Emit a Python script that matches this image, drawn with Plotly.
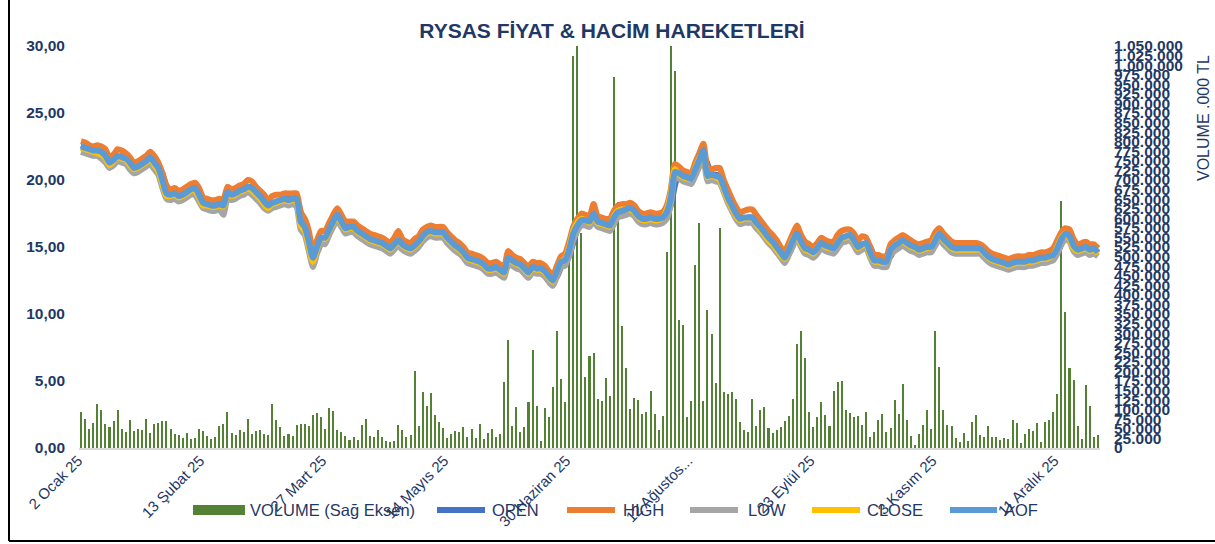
import plotly.graph_objects as go

# ---------------- DATA ----------------
tick_positions = [0, 30, 60, 90, 120, 150, 180, 210, 240]
tick_labels = ["2 Ocak 25", "13 Şubat 25", "27 Mart 25", "14 Mayıs 25", "30 Haziran 25",
               "12 Ağustos...", "23 Eylül 25", "3 Kasım 25", "11 Aralık 25"]

aof = [22.5, 22.4, 22.3, 22.2, 22.2, 22.1, 21.8, 21.3, 21.5, 21.8,
       21.7, 21.6, 21.3, 20.9, 21.0, 21.2, 21.4, 21.7, 21.3, 20.9,
       20.0, 19.0, 18.9, 19.0, 18.8, 18.9, 19.1, 19.3, 19.4, 18.9,
       18.3, 18.2, 18.1, 18.1, 18.2, 18.1, 19.1, 18.9, 19.0, 19.2,
       19.3, 19.5, 19.4, 19.1, 18.8, 18.4, 18.1, 18.3, 18.4, 18.5,
       18.6, 18.5, 18.6, 18.6, 16.9, 16.5, 15.4, 14.2, 15.0, 15.7,
       15.7, 16.3, 16.9, 17.4, 16.9, 16.4, 16.5, 16.5, 16.2, 16.0,
       15.8, 15.6, 15.5, 15.4, 15.3, 15.1, 14.9, 15.2, 15.5, 15.2,
       15.0, 14.9, 15.1, 15.4, 15.8, 16.1, 16.2, 16.1, 16.1, 16.1,
       15.7, 15.4, 15.1, 14.9, 14.6, 14.2, 14.1, 14.0, 13.9, 13.7,
       13.4, 13.4, 13.5, 13.3, 13.1, 14.2, 14.0, 13.8, 13.7, 13.4,
       13.1, 13.5, 13.4, 13.4, 13.2, 12.8, 12.5, 13.2, 13.9, 14.0,
       14.8, 16.0, 16.6, 17.0, 17.0, 16.9, 17.5, 16.9, 16.8, 16.7,
       16.6, 17.2, 17.6, 17.7, 17.8, 17.9, 17.7, 17.3, 17.1, 17.1,
       17.2, 17.1, 17.1, 17.2, 17.6, 18.7, 20.6, 20.5, 20.3, 20.2,
       20.1, 20.8, 21.5, 22.2, 20.3, 20.4, 20.3, 20.2, 19.5, 18.7,
       18.1, 17.5, 17.1, 17.2, 17.2, 17.2, 16.8, 16.5, 16.1, 15.7,
       15.4, 15.0, 14.6, 14.2, 14.8, 15.5, 16.0, 15.4, 14.9, 14.8,
       14.6, 14.9, 15.3, 15.1, 15.0, 14.9, 15.3, 15.7, 15.8, 15.9,
       15.5, 15.0, 15.2, 15.3, 14.6, 14.0, 14.0, 13.9, 13.9, 14.8,
       15.1, 15.3, 15.5, 15.3, 15.1, 15.0, 14.8, 14.9, 15.0, 15.0,
       15.5, 16.0, 15.6, 15.3, 15.0, 14.9, 14.9, 14.9, 14.9, 14.9,
       14.9, 14.9, 14.6, 14.3, 14.1, 14.0, 13.9, 13.8, 13.7, 13.8,
       13.9, 13.9, 13.9, 14.0, 14.0, 14.1, 14.2, 14.2, 14.3, 14.4,
       14.9, 15.6, 16.0, 15.8, 15.1, 14.8, 14.9, 15.0, 14.8, 14.9,
       14.6]

close = [22.4, 22.3, 22.2, 22.1, 22.0, 21.9, 21.6, 21.1, 21.4, 21.7,
         21.6, 21.5, 21.1, 20.8, 20.9, 21.1, 21.3, 21.6, 21.1, 20.7,
         19.7, 18.8, 18.8, 18.9, 18.7, 18.8, 19.0, 19.2, 19.2, 18.7,
         18.1, 18.1, 18.0, 18.0, 18.1, 18.0, 19.0, 18.8, 18.9, 19.1,
         19.2, 19.4, 19.2, 18.9, 18.6, 18.2, 17.9, 18.2, 18.3, 18.4,
         18.5, 18.4, 18.5, 18.4, 16.6, 16.2, 15.0, 13.9, 14.9, 15.6,
         15.6, 16.2, 16.8, 17.3, 16.8, 16.3, 16.4, 16.4, 16.1, 15.9,
         15.7, 15.5, 15.4, 15.3, 15.2, 15.0, 14.8, 15.1, 15.4, 15.1,
         14.9, 14.8, 15.0, 15.3, 15.7, 16.0, 16.1, 16.0, 16.0, 16.0,
         15.6, 15.3, 15.0, 14.8, 14.5, 14.1, 14.0, 13.9, 13.8, 13.6,
         13.3, 13.3, 13.4, 13.2, 13.0, 14.1, 13.9, 13.7, 13.6, 13.3,
         13.0, 13.4, 13.3, 13.3, 13.1, 12.7, 12.4, 13.2, 13.9, 14.1,
         15.0, 16.2, 16.8, 17.1, 17.0, 16.8, 17.4, 16.8, 16.7, 16.6,
         16.5, 17.3, 17.7, 17.8, 17.8, 17.8, 17.6, 17.2, 17.0, 17.0,
         17.1, 17.0, 17.0, 17.2, 17.8, 19.0, 20.8, 20.4, 20.2, 20.1,
         20.1, 20.9, 21.6, 22.1, 20.2, 20.3, 20.2, 20.0, 19.3, 18.5,
         17.9, 17.3, 17.0, 17.1, 17.1, 17.1, 16.7, 16.3, 15.9, 15.5,
         15.2, 14.8, 14.4, 14.1, 14.8, 15.6, 15.9, 15.2, 14.8, 14.7,
         14.5, 14.9, 15.2, 15.0, 14.9, 14.9, 15.3, 15.7, 15.7, 15.8,
         15.4, 14.9, 15.1, 15.2, 14.4, 13.9, 13.9, 13.8, 13.9, 14.8,
         15.1, 15.3, 15.4, 15.2, 15.0, 14.9, 14.7, 14.8, 14.9, 15.0,
         15.6, 16.0, 15.5, 15.2, 14.9, 14.8, 14.8, 14.8, 14.8, 14.8,
         14.8, 14.8, 14.5, 14.2, 14.0, 13.9, 13.8, 13.7, 13.6, 13.7,
         13.8, 13.8, 13.8, 13.9, 13.9, 14.0, 14.1, 14.1, 14.2, 14.4,
         15.0, 15.7, 16.0, 15.6, 14.9, 14.7, 14.8, 14.9, 14.7, 14.8,
         14.5]

high = [22.9, 22.8, 22.6, 22.5, 22.6, 22.5, 22.3, 21.7, 21.9, 22.3,
        22.2, 22.0, 21.7, 21.3, 21.4, 21.6, 21.8, 22.1, 21.8, 21.3,
        20.5, 19.6, 19.3, 19.4, 19.2, 19.3, 19.5, 19.7, 19.8, 19.4,
        18.7, 18.6, 18.5, 18.5, 18.6, 18.5, 19.5, 19.3, 19.4, 19.6,
        19.7, 20.0, 19.9, 19.5, 19.2, 18.9, 18.5, 18.8, 18.9, 18.9,
        19.0, 19.0, 19.0, 19.0, 17.6, 17.1, 16.2, 14.7, 15.5, 16.2,
        16.2, 16.8, 17.4, 17.9, 17.4, 16.9, 16.9, 16.9, 16.6, 16.4,
        16.2, 16.0, 15.9, 15.8, 15.7, 15.5, 15.3, 15.7, 16.2, 15.6,
        15.4, 15.3, 15.6, 15.8, 16.3, 16.5, 16.6, 16.5, 16.5, 16.5,
        16.1, 15.8, 15.5, 15.3, 15.0, 14.6, 14.5, 14.4, 14.3, 14.1,
        13.8, 13.8, 13.9, 13.7, 13.5, 14.7, 14.4, 14.2, 14.1, 13.8,
        13.5, 13.9, 13.8, 13.8, 13.6, 13.2, 12.9, 13.6, 14.3, 14.5,
        15.4, 16.5, 17.1, 17.5, 17.4, 17.3, 18.2, 17.3, 17.2, 17.1,
        17.1, 17.7, 18.1, 18.2, 18.2, 18.3, 18.1, 17.7, 17.5, 17.5,
        17.6, 17.5, 17.5, 17.6, 18.1, 19.3, 21.2, 21.0, 20.7, 20.6,
        20.5, 21.3, 22.0, 22.7, 21.0, 20.8, 20.9, 20.9, 20.0, 19.3,
        18.6, 18.0, 17.6, 17.7, 17.8, 17.8, 17.4, 17.0, 16.6, 16.2,
        15.9, 15.5, 15.0, 14.7, 15.3, 16.0, 16.6, 15.9, 15.4, 15.2,
        15.0, 15.3, 15.7, 15.5, 15.4, 15.4, 15.9, 16.2, 16.3, 16.3,
        16.0, 15.5, 15.8, 15.7, 15.0, 14.4, 14.4, 14.3, 14.3, 15.2,
        15.5, 15.7, 15.9, 15.7, 15.5, 15.3, 15.2, 15.3, 15.4, 15.5,
        16.1, 16.4, 16.0, 15.7, 15.4, 15.3, 15.3, 15.3, 15.3, 15.3,
        15.3, 15.2, 15.0, 14.7, 14.5, 14.4, 14.3, 14.2, 14.1, 14.2,
        14.3, 14.3, 14.3, 14.4, 14.4, 14.5, 14.6, 14.6, 14.7, 14.9,
        15.5, 16.1, 16.4, 16.3, 15.6, 15.2, 15.3, 15.4, 15.2, 15.2,
        14.9]

low = [22.1, 22.0, 21.9, 21.8, 21.8, 21.6, 21.3, 20.9, 21.1, 21.4,
       21.3, 21.2, 20.8, 20.5, 20.6, 20.8, 21.0, 21.2, 20.8, 20.4,
       19.4, 18.6, 18.5, 18.6, 18.4, 18.5, 18.7, 18.9, 18.9, 18.4,
       17.9, 17.8, 17.7, 17.7, 17.8, 17.4, 18.6, 18.5, 18.6, 18.8,
       18.9, 19.1, 18.9, 18.6, 18.3, 17.9, 17.7, 17.9, 18.0, 18.1,
       18.2, 18.1, 18.2, 18.0, 16.3, 15.9, 14.7, 13.5, 14.5, 15.3,
       15.2, 15.9, 16.5, 17.0, 16.5, 16.0, 16.1, 16.1, 15.8, 15.6,
       15.4, 15.2, 15.1, 15.0, 14.9, 14.7, 14.5, 14.8, 15.1, 14.8,
       14.6, 14.5, 14.7, 15.0, 15.4, 15.7, 15.8, 15.7, 15.7, 15.7,
       15.3, 15.0, 14.7, 14.5, 14.2, 13.8, 13.7, 13.6, 13.5, 13.3,
       13.0, 13.0, 13.1, 12.9, 12.7, 13.7, 13.6, 13.4, 13.3, 13.0,
       12.7, 13.1, 13.0, 13.0, 12.8, 12.4, 12.1, 12.8, 13.5, 13.6,
       14.3, 15.5, 16.2, 16.6, 16.6, 16.5, 16.9, 16.5, 16.4, 16.3,
       16.2, 16.7, 17.2, 17.3, 17.4, 17.5, 17.3, 16.9, 16.7, 16.7,
       16.8, 16.7, 16.7, 16.8, 17.1, 18.2, 20.1, 20.1, 19.9, 19.8,
       19.7, 20.3, 21.0, 21.6, 19.9, 20.0, 19.9, 19.8, 19.1, 18.3,
       17.7, 17.1, 16.7, 16.8, 16.8, 16.8, 16.4, 16.1, 15.7, 15.3,
       15.0, 14.6, 14.2, 13.8, 14.4, 15.1, 15.6, 15.0, 14.5, 14.4,
       14.2, 14.5, 14.9, 14.7, 14.6, 14.5, 14.9, 15.3, 15.4, 15.5,
       15.1, 14.6, 14.8, 14.9, 14.2, 13.6, 13.6, 13.5, 13.5, 14.4,
       14.7, 14.9, 15.1, 14.9, 14.7, 14.6, 14.4, 14.5, 14.6, 14.6,
       15.1, 15.6, 15.2, 14.9, 14.6, 14.5, 14.5, 14.5, 14.5, 14.5,
       14.5, 14.5, 14.2, 13.9, 13.7, 13.6, 13.5, 13.4, 13.3, 13.4,
       13.5, 13.5, 13.5, 13.6, 13.6, 13.7, 13.8, 13.8, 13.9, 14.0,
       14.5, 15.2, 15.6, 15.4, 14.7, 14.4, 14.5, 14.6, 14.4, 14.5,
       14.3]

open_ = [22.6, 22.5, 22.4, 22.3, 22.2, 22.2, 22.0, 21.6, 21.4, 21.6,
         21.8, 21.7, 21.5, 21.1, 20.9, 21.1, 21.3, 21.5, 21.5, 21.1,
         20.5, 19.5, 19.0, 18.9, 18.9, 18.8, 19.0, 19.2, 19.3, 19.2,
         18.6, 18.3, 18.2, 18.1, 18.1, 18.2, 18.6, 19.0, 18.9, 19.1,
         19.2, 19.4, 19.5, 19.3, 19.0, 18.6, 18.3, 18.2, 18.3, 18.4,
         18.5, 18.6, 18.5, 18.6, 17.6, 16.7, 15.9, 14.8, 14.6, 15.3,
         15.7, 16.0, 16.6, 17.1, 17.2, 16.7, 16.4, 16.5, 16.4, 16.1,
         15.9, 15.7, 15.6, 15.5, 15.4, 15.2, 15.0, 15.0, 15.3, 15.4,
         15.1, 15.0, 15.0, 15.2, 15.6, 15.9, 16.1, 16.2, 16.1, 16.1,
         15.9, 15.6, 15.3, 15.0, 14.8, 14.4, 14.2, 14.1, 14.0, 13.8,
         13.6, 13.4, 13.4, 13.4, 13.2, 13.6, 14.1, 13.9, 13.8, 13.6,
         13.3, 13.3, 13.5, 13.4, 13.3, 13.0, 12.7, 12.8, 13.5, 13.9,
         14.4, 15.3, 16.3, 16.8, 17.0, 17.0, 17.2, 17.2, 16.9, 16.8,
         16.7, 16.9, 17.4, 17.6, 17.7, 17.8, 17.8, 17.5, 17.2, 17.1,
         17.1, 17.2, 17.1, 17.1, 17.4, 18.1, 19.6, 20.5, 20.4, 20.3,
         20.2, 20.4, 21.1, 21.8, 21.2, 20.4, 20.4, 20.3, 19.9, 19.1,
         18.4, 17.8, 17.3, 17.1, 17.2, 17.2, 17.0, 16.7, 16.3, 15.9,
         15.6, 15.2, 14.8, 14.4, 14.5, 15.1, 15.7, 15.7, 15.2, 14.9,
         14.7, 14.7, 15.1, 15.2, 15.1, 15.0, 15.1, 15.5, 15.7, 15.8,
         15.7, 15.3, 15.1, 15.2, 15.0, 14.3, 14.0, 14.0, 13.9, 14.3,
         14.9, 15.2, 15.4, 15.4, 15.2, 15.1, 14.9, 14.8, 14.9, 15.0,
         15.2, 15.7, 15.8, 15.5, 15.2, 15.0, 14.9, 14.9, 14.9, 14.9,
         14.9, 14.9, 14.8, 14.5, 14.2, 14.1, 14.0, 13.9, 13.8, 13.7,
         13.8, 13.9, 13.9, 13.9, 14.0, 14.0, 14.1, 14.2, 14.2, 14.3,
         14.6, 15.2, 15.8, 15.9, 15.5, 15.0, 14.8, 14.9, 14.9, 14.8,
         14.8]

volume = [93000, 75000, 49000, 65000, 114000, 100000, 62000, 54000, 71000, 98000,
          49000, 42000, 73000, 45000, 50000, 48000, 75000, 38000, 62000, 65000,
          70000, 71000, 50000, 37000, 35000, 26000, 40000, 23000, 26000, 49000,
          45000, 32000, 23000, 29000, 58000, 62000, 94000, 38000, 35000, 48000,
          41000, 76000, 37000, 45000, 48000, 36000, 35000, 115000, 74000, 55000,
          32000, 37000, 32000, 61000, 62000, 62000, 58000, 87000, 91000, 82000,
          50000, 105000,
          97000, 48000, 43000, 32000, 22000, 28000, 22000, 61000, 76000, 32000,
          29000, 48000, 30000, 19000, 15000, 17000, 60000, 48000, 29000, 34000,
          202000, 58000, 146000, 110000, 143000, 87000, 67000, 53000, 26000, 36000,
          45000, 42000, 54000, 28000, 50000, 26000, 63000, 24000, 39000, 50000,
          29000, 37000, 172000, 283000, 58000, 106000, 42000, 54000, 121000, 257000,
          110000, 19000, 105000, 80000, 160000, 305000, 180000, 121000, 490000,
          1024000, 1080000,
          561000, 185000, 241000, 249000, 127000, 123000, 182000, 136000, 968000, 643000,
          318000, 208000, 102000, 131000, 126000, 88000, 93000, 149000, 88000, 48000,
          84000, 511000, 1100000, 985000, 335000, 320000, 82000, 123000, 477000, 588000,
          123000, 361000, 299000, 171000, 575000, 146000, 140000, 146000, 129000, 68000,
          46000, 43000, 127000, 58000, 100000, 107000, 52000, 38000, 47000, 55000,
          70000, 84000, 129000, 272000, 305000, 234000, 95000, 56000, 82000, 119000,
          87000, 58000,
          148000, 172000, 176000, 100000, 91000, 82000, 83000, 59000, 93000, 29000,
          41000, 72000, 88000, 42000, 51000, 126000, 90000, 167000, 74000, 32000,
          9000, 37000, 59000, 98000, 50000, 305000, 211000, 98000, 60000, 58000,
          25000, 15000, 39000, 17000, 69000, 87000, 33000, 30000, 57000, 30000,
          28000, 21000, 26000, 23000, 72000, 66000, 14000, 36000, 50000, 45000,
          66000, 15000, 68000, 72000, 94000, 140000, 645000, 354000, 208000, 177000,
          57000, 23000, 164000, 111000, 29000, 34000]

legend_names = ["VOLUME (Sağ Eksen)", "OPEN", "HIGH", "LOW", "CLOSE", "AOF"]
legend_colors = ["#548235", "#4472C4", "#ED7D31", "#A5A5A5", "#FFC000", "#5B9BD5"]

# ---------------- FIGURE ----------------
NAVY = "#1F3864"
FONT = "Liberation Sans, Arial, sans-serif"
idx = list(range(len(aof)))

OFF = 0                      # body margin removed by post_script
W, H = 1215, 544
# plot area in screen (reference) pixels
SL, SR, ST, SB = 79, 1100, 46, 448
PL, PR, PT, PB = SL - OFF, SR - OFF, ST - OFF, SB - OFF
pw, ph = PR - PL, PB - PT

def px(x):
    return (x - SL) / pw

def py(y):
    return (SB - y) / ph

fig = go.Figure()

# volume bars on primary (right-side) axis, drawn beneath the price lines
fig.add_trace(go.Bar(x=idx, y=volume, yaxis="y", width=0.5,
                     marker=dict(color="#548235", line=dict(width=0)),
                     showlegend=False, name=legend_names[0]))

series = [(legend_names[1], open_, legend_colors[1]),
          (legend_names[2], high, legend_colors[2]),
          (legend_names[3], low, legend_colors[3]),
          (legend_names[4], close, legend_colors[4]),
          (legend_names[5], aof, legend_colors[5])]
for name, vals, col in series:
    fig.add_trace(go.Scatter(x=idx, y=vals, yaxis="y2", mode="lines", name=name,
                             showlegend=False,
                             line=dict(color=col, width=6, shape="spline", smoothing=0.6)))

fig.update_layout(
    width=W, height=H,
    margin=dict(l=PL, r=W - PR, t=PT, b=H - PB, autoexpand=False),
    paper_bgcolor="white", plot_bgcolor="white",
    separators=",.",
    font=dict(family=FONT, color=NAVY),
    title=dict(text="<b>RYSAS FİYAT & HACİM HAREKETLERİ</b>",
               x=(612 - OFF) / W, xref="container", xanchor="center",
               y=1 - (31 - OFF) / H, yref="container", yanchor="middle",
               font=dict(size=21, color=NAVY, family=FONT)),
    xaxis=dict(range=[-0.5, len(aof) - 0.5], tickmode="array",
               tickvals=tick_positions, ticktext=tick_labels, tickangle=-45,
               tickfont=dict(size=15, color=NAVY, family=FONT),
               showgrid=False, zeroline=False, showline=True,
               linecolor="#D9D9D9", linewidth=2, ticks="",
               ticklabelstandoff=-4, ticklabelshift=-3),
    yaxis=dict(side="right", range=[0, 1050000], dtick=25000, tickformat=",d",
               tickfont=dict(size=15.5, color=NAVY, family=FONT, weight="bold"),
               showgrid=False, zeroline=False, showline=False, ticks="",
               ticklabelstandoff=13),
    yaxis2=dict(side="left", overlaying="y", range=[0, 30], dtick=5,
                tickformat=",.2f",
                tickfont=dict(size=15.5, color=NAVY, family=FONT, weight="bold"),
                showgrid=False, zeroline=False, showline=False, ticks="",
                ticklabelstandoff=13),
    bargap=0,
    showlegend=False,
)

fig.add_annotation(text="VOLUME .000 TL", textangle=-90,
                   x=px(1204), y=py(118), xref="paper", yref="paper",
                   xanchor="center", yanchor="middle",
                   showarrow=False, font=dict(size=16, color=NAVY, family=FONT))

# manual legend (swatch start, swatch end, text start) in screen pixels
legend_pos = [(193, 245, 248), (437, 485, 490), (567, 615, 621),
              (690, 738, 746), (812, 860, 865), (950, 997, 1002)]
LY = 510
for i, (name, col) in enumerate(zip(legend_names, legend_colors)):
    x0, x1, xt = legend_pos[i]
    if i == 0:
        fig.add_shape(type="rect", xref="paper", yref="paper",
                      x0=px(x0), x1=px(x1), y0=py(LY + 5), y1=py(LY - 5),
                      fillcolor=col, line=dict(width=0))
    else:
        fig.add_shape(type="line", xref="paper", yref="paper",
                      x0=px(x0), x1=px(x1), y0=py(LY), y1=py(LY),
                      line=dict(color=col, width=6))
    fig.add_annotation(text=name, x=px(xt), y=py(LY), xref="paper", yref="paper",
                       xanchor="left", yanchor="middle", showarrow=False,
                       font=dict(size=16.5, color=NAVY, family=FONT))

# outer frame lines (left and bottom)
fig.add_shape(type="line", xref="paper", yref="paper",
              x0=px(9), x1=px(9), y0=py(541), y1=py(0),
              line=dict(color="black", width=2))
fig.add_shape(type="line", xref="paper", yref="paper",
              x0=px(9), x1=px(1220), y0=py(541), y1=py(541),
              line=dict(color="black", width=2))

fig.write_html("out.html",
               config={"displayModeBar": False},
               post_script="document.body.style.margin='0';"
                           "document.body.style.overflow='hidden';")
